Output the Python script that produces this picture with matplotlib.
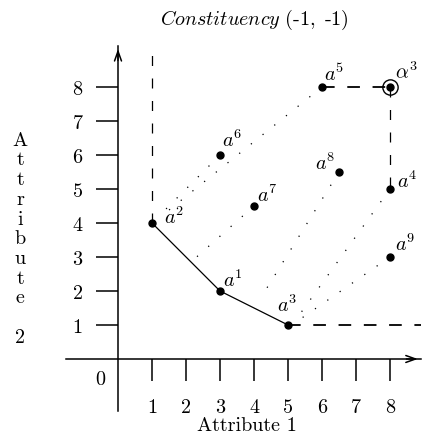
import matplotlib
matplotlib.use("Agg")
from matplotlib import pyplot as plt

plt.rcParams['mathtext.fontset'] = 'cm'
plt.rcParams['font.family'] = ['cmr10', 'DejaVu Serif']
plt.rcParams['axes.formatter.use_mathtext'] = True

# points of the chart
names = ['1', '2', '3', '4', '5', '6', '7', '8', '9']
px = [3, 1, 5, 8, 6, 3, 4, 6.5, 8]
py = [2, 4, 1, 5, 8, 6, 4.5, 5.5, 3]
# label offsets (data units) for every point
lab_dx = [0.1, 0.35, -0.32, 0.2, 0.05, 0.05, 0.1, -0.7, 0.15]
lab_dy = [0.35, 0.2, 0.6, 0.25, 0.4, 0.45, 0.35, 0.3, 0.4]

alpha_pt = (8, 8)

# frontier (solid)
front_x = [1, 3, 5]
front_y = [4, 2, 1]

# dotted projection lines: start and end points
dot_x0 = [6, 3, 4, 6.5, 8, 8]
dot_y0 = [8, 6, 4.5, 5.5, 5, 3]
dot_x1 = [1.4, 1.3, 2.2, 4.2, 5.3, 5.4]
dot_y1 = [4.3, 4.3, 2.9, 1.8, 1.25, 1.2]

ticks = [1, 2, 3, 4, 5, 6, 7, 8]

fig = plt.figure(figsize=(4.23, 4.39), dpi=100)
ax = fig.add_axes([0.156, 0.0615, 0.8383, 0.831])
ax.set_xlim(-1.53, 8.9)
ax.set_ylim(-1.53, 9.2)

for s in ['top', 'right']:
    ax.spines[s].set_visible(False)
ax.spines['left'].set_position(('data', 0))
ax.spines['bottom'].set_position(('data', 0))
ax.spines['left'].set_linewidth(1.1)
ax.spines['bottom'].set_linewidth(1.1)

ax.set_xticks(ticks)
ax.set_yticks(ticks)
ax.set_xticklabels([str(t) for t in ticks])
ax.set_yticklabels([str(t) for t in ticks])
ax.tick_params(axis='x', direction='out', length=15.5, width=1.1, pad=12.5, labelsize=14.5)
ax.tick_params(axis='y', direction='out', length=15.5, width=1.1, pad=10, labelsize=14.5)

# arrow heads on the axes
ax.annotate('', xy=(8.9, 0), xytext=(8.4, 0),
            arrowprops=dict(arrowstyle='->, head_length=0.7, head_width=0.25', lw=1.1, color='black'))
ax.annotate('', xy=(0, 9.2), xytext=(0, 8.7),
            arrowprops=dict(arrowstyle='->, head_length=0.7, head_width=0.25', lw=1.1, color='black'))

# dashed boundary lines
ax.plot([1, 1], [4, 9.2], color='black', lw=0.9, linestyle=(0, (8, 10)))
ax.plot([5, 8.9], [1, 1], color='black', lw=1.3, linestyle=(0, (7, 7)))
ax.plot([6, 8], [8, 8], color='black', lw=1.3, linestyle=(0, (7, 7)))
ax.plot([8, 8], [8, 5], color='black', lw=0.9, linestyle=(0, (8, 10)))

# dotted projections
for i in range(len(dot_x0)):
    ax.plot([dot_x0[i], dot_x1[i]], [dot_y0[i], dot_y1[i]], color='black',
            lw=0.9, linestyle=(0, (1, 11)))

# frontier
ax.plot(front_x, front_y, color='black', lw=0.9)

ax.plot(px, py, 'o', color='black', markersize=5)
for i in range(len(names)):
    ax.text(px[i] + lab_dx[i], py[i] + lab_dy[i], '$a^{%s}$' % names[i],
            fontsize=14.5, ha='left', va='center')

ax.plot([alpha_pt[0]], [alpha_pt[1]], 'o', color='black', markersize=5)
ax.plot([alpha_pt[0]], [alpha_pt[1]], 'o', mfc='none', mec='black', mew=1.0, markersize=11)
ax.text(alpha_pt[0] + 0.15, alpha_pt[1] + 0.45, r'$\alpha^3$', fontsize=14.5, ha='left', va='center')

ax.text(-0.53, -0.59, '0', fontsize=14.5, ha='center', va='center')
ax.text(3.8, -1.95, 'Attribute 1', fontsize=14.5, ha='center', va='center')
ax.text(-2.88, 3.55, 'A\nt\nt\nr\ni\nb\nu\nt\ne\n\n2', fontsize=14.5,
        ha='center', va='center', linespacing=1.13)
ax.text(4.0, 10.0, r'$\mathit{Constituency}\ (\text{-}1,\ \text{-}1)$', fontsize=14.5,
        ha='center', va='center')

plt.savefig('out.png', dpi=100)
